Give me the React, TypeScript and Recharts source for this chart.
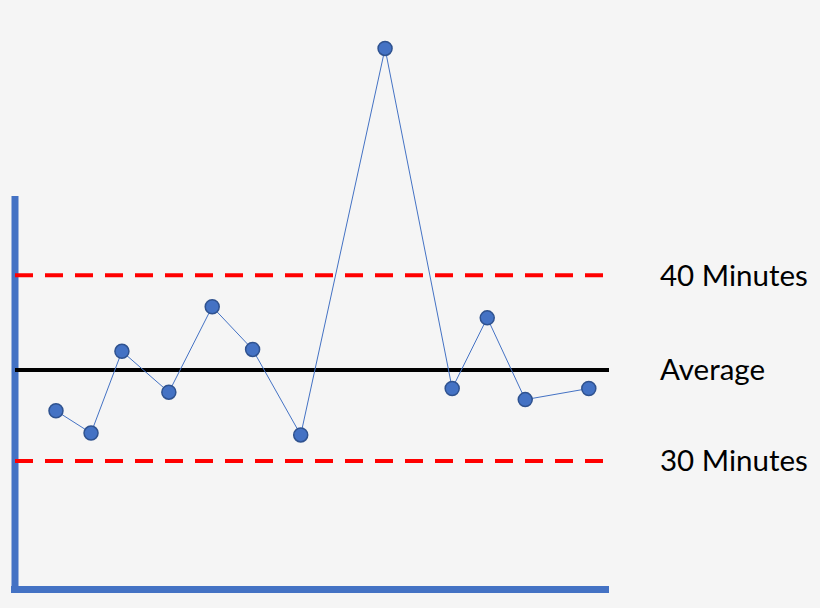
import { LineChart, Line, XAxis, YAxis, ReferenceLine } from "recharts";

// observation order (sample time, arbitrary units) and wait time in minutes
const sampleTimes = [6.9, 12.8, 18.0, 25.9, 33.2, 40.0, 48.1, 62.3, 73.6, 79.5, 85.9, 96.6];
const waitMinutes = [32.7, 31.5, 35.9, 33.7, 38.3, 36.0, 31.4, 52.2, 33.9, 37.7, 33.3, 33.9];

const upperLimit = 40;
const lowerLimit = 30;
const average = 34.9;

const limitLabels = ["40 Minutes", "Average", "30 Minutes"];

const data = sampleTimes.map((t, i) => ({ t, minutes: waitMinutes[i] }));

const blue = "#4472c4";
const labelFont = { fill: "#000", fontSize: 29.5, fontFamily: "Lato, 'Open Sans', sans-serif" };

export default function App() {
  return (
    <div style={{ position: "fixed", top: 0, left: 0, width: 820, height: 608, background: "#f5f5f5" }}>
      <LineChart width={820} height={608} data={data} margin={{ top: 15, right: 211, bottom: 17, left: 15 }}>
        <XAxis type="number" dataKey="t" domain={[0, 100]} hide />
        <YAxis type="number" domain={[23, 54]} hide allowDataOverflow />

        {/* axes drawn as plain blue strokes */}
        <ReferenceLine
          segment={[{ x: 0, y: 22.9 }, { x: 0, y: 44.26 }]}
          stroke={blue}
          strokeWidth={7}
          ifOverflow="visible"
        />
        <ReferenceLine
          segment={[{ x: -0.67, y: 23.08 }, { x: 100, y: 23.08 }]}
          stroke={blue}
          strokeWidth={7}
          ifOverflow="visible"
        />

        <ReferenceLine
          y={upperLimit}
          stroke="#ff0000"
          strokeWidth={4}
          strokeDasharray="18 12"
          label={{ value: limitLabels[0], position: "right", offset: 51, ...labelFont }}
        />
        <ReferenceLine
          y={average}
          stroke="#000"
          strokeWidth={4}
          label={{ value: limitLabels[1], position: "right", offset: 51, ...labelFont }}
        />
        <ReferenceLine
          y={lowerLimit}
          stroke="#ff0000"
          strokeWidth={4}
          strokeDasharray="18 12"
          label={{ value: limitLabels[2], position: "right", offset: 51, ...labelFont }}
        />

        <Line
          type="linear"
          dataKey="minutes"
          stroke={blue}
          strokeWidth={1}
          dot={{ r: 7, fill: blue, stroke: "#2f528f", strokeWidth: 1.5 }}
          isAnimationActive={false}
        />
      </LineChart>
    </div>
  );
}
